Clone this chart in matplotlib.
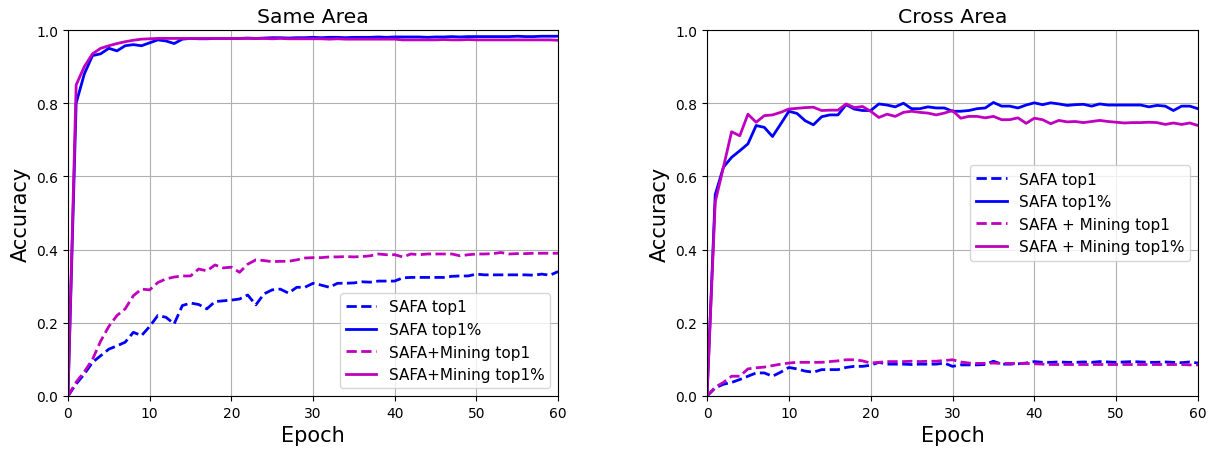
import numpy as np
import matplotlib
matplotlib.use("Agg")
import matplotlib.pyplot as plt

epochs = np.arange(0, 61)

# Same Area
same_safa_top1 = [0.0, 0.033, 0.06, 0.092, 0.11, 0.128, 0.137, 0.147, 0.174, 0.165,
                  0.19, 0.22, 0.215, 0.197, 0.247, 0.254, 0.25, 0.238, 0.258, 0.26,
                  0.262, 0.265, 0.276, 0.249, 0.279, 0.29, 0.292, 0.281, 0.297, 0.297,
                  0.308, 0.303, 0.297, 0.308, 0.308, 0.309, 0.312, 0.311, 0.314, 0.314,
                  0.314, 0.323, 0.324, 0.324, 0.324, 0.324, 0.324, 0.327, 0.328, 0.328,
                  0.333, 0.331, 0.331, 0.331, 0.331, 0.331, 0.331, 0.33, 0.333, 0.33,
                  0.34]
same_safa_top1p = [0.0, 0.80, 0.88, 0.93, 0.935, 0.95, 0.943, 0.957, 0.96, 0.957,
                   0.965, 0.973, 0.97, 0.963, 0.975, 0.977, 0.976, 0.976, 0.977, 0.977,
                   0.977, 0.977, 0.978, 0.977, 0.978, 0.979, 0.979, 0.978, 0.979, 0.979,
                   0.980, 0.979, 0.980, 0.980, 0.979, 0.980, 0.980, 0.980, 0.981, 0.980,
                   0.981, 0.981, 0.981, 0.981, 0.980, 0.981, 0.981, 0.982, 0.981, 0.982,
                   0.982, 0.982, 0.982, 0.982, 0.982, 0.983, 0.982, 0.982, 0.983, 0.983,
                   0.983]
same_mining_top1 = [0.0, 0.038, 0.066, 0.10, 0.15, 0.19, 0.22, 0.238, 0.274, 0.292,
                    0.29, 0.31, 0.32, 0.325, 0.328, 0.328, 0.347, 0.342, 0.358, 0.35,
                    0.352, 0.338, 0.36, 0.372, 0.37, 0.367, 0.368, 0.368, 0.372, 0.377,
                    0.378, 0.378, 0.38, 0.38, 0.381, 0.38, 0.381, 0.383, 0.388, 0.386,
                    0.386, 0.38, 0.388, 0.386, 0.388, 0.388, 0.388, 0.388, 0.383, 0.386,
                    0.388, 0.388, 0.389, 0.392, 0.388, 0.389, 0.389, 0.39, 0.39, 0.39,
                    0.39]
same_mining_top1p = [0.0, 0.85, 0.90, 0.935, 0.95, 0.957, 0.963, 0.968, 0.972, 0.975,
                     0.976, 0.977, 0.977, 0.977, 0.977, 0.977, 0.977, 0.977, 0.977, 0.977,
                     0.977, 0.977, 0.977, 0.977, 0.977, 0.976, 0.977, 0.976, 0.976, 0.976,
                     0.976, 0.976, 0.975, 0.976, 0.975, 0.975, 0.975, 0.975, 0.975, 0.975,
                     0.975, 0.973, 0.973, 0.973, 0.973, 0.973, 0.974, 0.973, 0.973, 0.974,
                     0.973, 0.973, 0.973, 0.973, 0.973, 0.973, 0.973, 0.973, 0.973, 0.973,
                     0.972]

# Cross Area
cross_safa_top1 = [0.0, 0.022, 0.032, 0.037, 0.045, 0.054, 0.063, 0.063, 0.054, 0.065,
                   0.078, 0.074, 0.068, 0.065, 0.072, 0.072, 0.072, 0.078, 0.081, 0.081,
                   0.084, 0.092, 0.087, 0.087, 0.087, 0.086, 0.087, 0.087, 0.087, 0.09,
                   0.081, 0.085, 0.085, 0.085, 0.086, 0.095, 0.087, 0.087, 0.088, 0.09,
                   0.094, 0.092, 0.092, 0.093, 0.092, 0.092, 0.093, 0.092, 0.094, 0.093,
                   0.092, 0.093, 0.094, 0.093, 0.092, 0.092, 0.093, 0.092, 0.091, 0.093,
                   0.09]
cross_safa_top1p = [0.0, 0.55, 0.625, 0.652, 0.67, 0.689, 0.739, 0.734, 0.709, 0.743,
                    0.778, 0.772, 0.752, 0.741, 0.763, 0.768, 0.768, 0.796, 0.784, 0.78,
                    0.78, 0.798, 0.795, 0.79, 0.80, 0.785, 0.785, 0.79, 0.787, 0.787,
                    0.778, 0.778, 0.78, 0.785, 0.787, 0.802, 0.792, 0.792, 0.787, 0.795,
                    0.801, 0.796, 0.801, 0.798, 0.794, 0.796, 0.797, 0.792, 0.798, 0.795,
                    0.795, 0.795, 0.795, 0.795, 0.79, 0.794, 0.792, 0.78, 0.792, 0.792,
                    0.785]
cross_mining_top1 = [0.0, 0.024, 0.037, 0.054, 0.054, 0.074, 0.077, 0.079, 0.083, 0.087,
                     0.09, 0.092, 0.092, 0.092, 0.092, 0.094, 0.096, 0.099, 0.099, 0.096,
                     0.09, 0.092, 0.094, 0.094, 0.094, 0.095, 0.094, 0.095, 0.095, 0.097,
                     0.099, 0.093, 0.09, 0.089, 0.089, 0.09, 0.089, 0.089, 0.089, 0.089,
                     0.088, 0.087, 0.086, 0.086, 0.086, 0.086, 0.086, 0.086, 0.086, 0.086,
                     0.086, 0.086, 0.086, 0.086, 0.086, 0.086, 0.086, 0.086, 0.086, 0.085,
                     0.085]
cross_mining_top1p = [0.0, 0.53, 0.625, 0.722, 0.711, 0.77, 0.748, 0.766, 0.768, 0.775,
                      0.784, 0.786, 0.788, 0.789, 0.78, 0.781, 0.781, 0.798, 0.788, 0.791,
                      0.778, 0.761, 0.77, 0.764, 0.775, 0.778, 0.775, 0.773, 0.768, 0.773,
                      0.78, 0.759, 0.764, 0.764, 0.76, 0.764, 0.755, 0.755, 0.76, 0.745,
                      0.759, 0.755, 0.744, 0.753, 0.749, 0.75, 0.747, 0.75, 0.753, 0.75,
                      0.748, 0.746, 0.747, 0.747, 0.748, 0.747, 0.742, 0.746, 0.742, 0.746,
                      0.739]

fig = plt.figure(figsize=(12.14, 4.52), dpi=100)
ax1 = fig.add_axes([0.056, 0.1217, 0.4037, 0.8097])
ax2 = fig.add_axes([0.5824, 0.1217, 0.4044, 0.8097])

lw = 2
ax1.plot(epochs, same_safa_top1, 'b--', lw=lw, label='SAFA top1')
ax1.plot(epochs, same_safa_top1p, 'b-', lw=lw, label='SAFA top1%')
ax1.plot(epochs, same_mining_top1, 'm--', lw=lw, label='SAFA+Mining top1')
ax1.plot(epochs, same_mining_top1p, 'm-', lw=lw, label='SAFA+Mining top1%')
ax1.set_title('Same Area', fontsize=14.7)
ax1.legend(loc='lower right', fontsize=11)

ax2.plot(epochs, cross_safa_top1, 'b--', lw=lw, label='SAFA top1')
ax2.plot(epochs, cross_safa_top1p, 'b-', lw=lw, label='SAFA top1%')
ax2.plot(epochs, cross_mining_top1, 'm--', lw=lw, label='SAFA + Mining top1')
ax2.plot(epochs, cross_mining_top1p, 'm-', lw=lw, label='SAFA + Mining top1%')
ax2.set_title('Cross Area', fontsize=14.7)
ax2.legend(loc='center right', fontsize=11)

for ax in (ax1, ax2):
    ax.set_xlim(0, 60)
    ax.set_ylim(0, 1.0)
    ax.set_xlabel('Epoch', fontsize=15)
    ax.set_ylabel('Accuracy', fontsize=15)
    ax.grid(True, color='#b0b0b0', lw=0.8)
    ax.tick_params(labelsize=10)

fig.savefig('out.png', dpi=100)
